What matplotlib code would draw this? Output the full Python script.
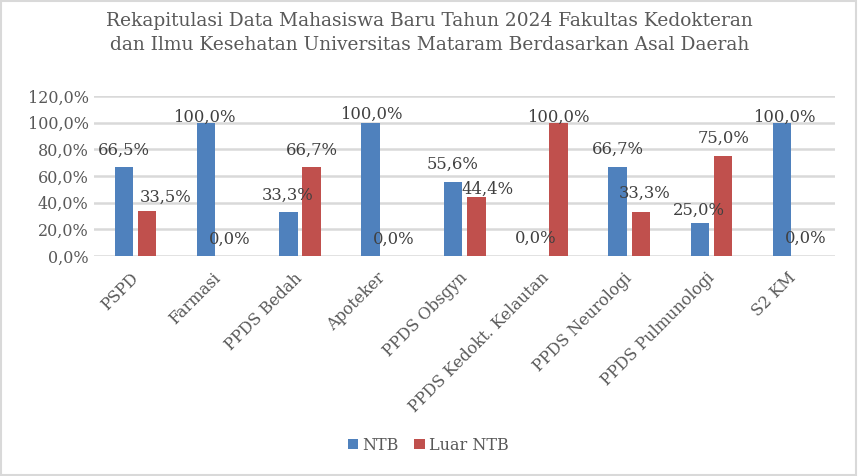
import matplotlib
matplotlib.use('Agg')

import matplotlib.pyplot as plt
import numpy as np
from matplotlib.patches import Rectangle

# data
prodi = ["PSPD", "Farmasi", "PPDS Bedah", "Apoteker", "PPDS Obsgyn",
         "PPDS Kedokt. Kelautan", "PPDS Neurologi", "PPDS Pulmunologi", "S2 KM"]
ntb = [66.5, 100.0, 33.3, 100.0, 55.6, 0.0, 66.7, 25.0, 100.0]
luar_ntb = [33.5, 0.0, 66.7, 0.0, 44.4, 100.0, 33.3, 75.0, 0.0]
y_ticks = [0, 20, 40, 60, 80, 100, 120]

title = ("Rekapitulasi Data Mahasiswa Baru Tahun 2024 Fakultas Kedokteran\n"
         "dan Ilmu Kesehatan Universitas Mataram Berdasarkan Asal Daerah")

# label placement tweaks (x in category units, y in percent) as in the original
ntb_dx = [0, -0.02, -0.01, 0.01, 0, 0, 0, -0.01, 0.03]
ntb_dy = [13, 4.3, 12.4, 6.5, 13.4, 13.5, 13.5, 9.5, 4.3]
luar_dx = [0.22, 0, 0, 0, 0.13, 0, 0.05, 0, 0]
luar_dy = [10.8, 12.8, 12.8, 12.8, 5.9, 4.3, 13.9, 13.5, 13.5]

BLUE = '#4f81bd'
RED = '#c0504d'
GREY = '#595959'
FONT = 'DejaVu Serif'

plt.rcParams['font.family'] = FONT


def pct(v):
	return ("%.1f%%" % v).replace('.', ',')


fig = plt.figure(figsize=(8.59, 4.76), dpi=100)
ax = fig.add_axes([94.3 / 859, 1 - 256 / 476, (835 - 94.3) / 859, 160 / 476])

x = np.arange(len(prodi))
w = 0.225
off = 0.142
ax.bar(x - off, ntb, w, color=BLUE, label="NTB", zorder=3)
ax.bar(x + off, luar_ntb, w, color=RED, label="Luar NTB", zorder=3)

for i in range(len(prodi)):
	ax.text(x[i] - off + ntb_dx[i], ntb[i] + ntb_dy[i], pct(ntb[i]),
			ha='center', va='center', fontsize=11.8, color='#404040', zorder=4)
	ax.text(x[i] + off + luar_dx[i], luar_ntb[i] + luar_dy[i], pct(luar_ntb[i]),
			ha='center', va='center', fontsize=11.8, color='#404040', zorder=4)

ax.set_xlim(-0.5, len(prodi) - 0.5)
ax.set_ylim(0, 120)
ax.set_yticks(y_ticks)
ax.set_yticklabels([pct(t) for t in y_ticks], fontsize=11.5, color=GREY)
ax.set_xticks(x)
ax.set_xticklabels(prodi, rotation=45, ha='right', va='center',
				   rotation_mode='anchor', fontsize=11.5, color=GREY)
ax.tick_params(axis='both', length=0)
ax.tick_params(axis='x', pad=14)
ax.tick_params(axis='y', pad=4)
ax.yaxis.grid(True, color='#d9d9d9', linewidth=1.8, zorder=0)
ax.set_axisbelow(True)
for s in ax.spines.values():
	s.set_visible(False)

fig.text(0.5, 1 - 33 / 476, title, ha='center', va='center', fontsize=13.4,
		 color=GREY, linespacing=1.5)

fig.legend(loc='center', bbox_to_anchor=(428 / 859, 1 - 445 / 476), ncol=2,
		   frameon=False, fontsize=11.5, handlelength=0.65, handleheight=0.65,
		   handletextpad=0.25, columnspacing=1.0, labelcolor=GREY)

fig.patches.append(Rectangle((0.001, 0.002), 0.996, 0.995, transform=fig.transFigure,
							 fill=False, edgecolor='#d9d9d9', linewidth=1.5))

fig.savefig('out.png', dpi=100)
